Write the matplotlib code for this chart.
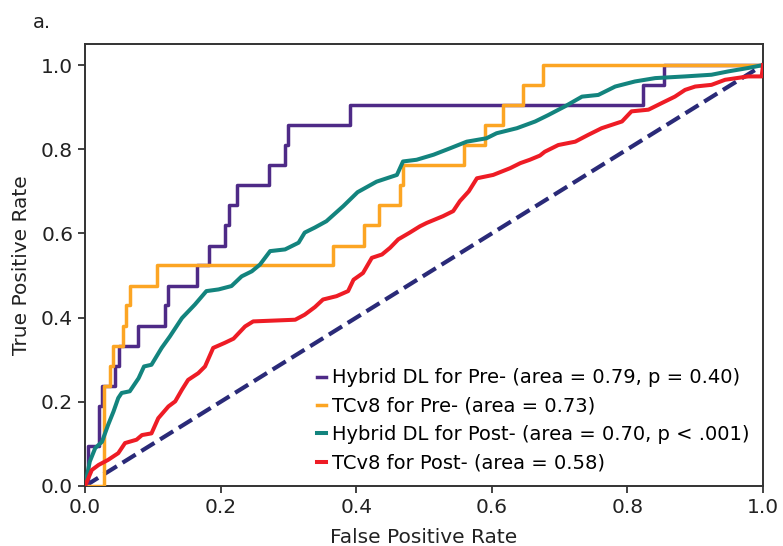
import matplotlib
matplotlib.use('Agg')
from matplotlib import pyplot as plt

# Hybrid DL for Pre- (step curve: fpr where tpr jumps, tpr after jump)
pre_dl_fpr = [0.0, 0.005, 0.02, 0.025, 0.044, 0.05, 0.078, 0.118, 0.123, 0.165, 0.183,
              0.206, 0.212, 0.224, 0.271, 0.295, 0.299, 0.391, 0.823, 0.854, 1.0]
pre_dl_tpr = [0.0, 0.095, 0.190, 0.238, 0.286, 0.333, 0.381, 0.429, 0.476, 0.524, 0.571,
              0.619, 0.667, 0.714, 0.762, 0.810, 0.857, 0.905, 0.952, 1.0, 1.0]

# TCv8 for Pre-
pre_tc_fpr = [0.0, 0.028, 0.037, 0.041, 0.056, 0.061, 0.066, 0.106, 0.366, 0.411, 0.434,
              0.465, 0.469, 0.559, 0.590, 0.617, 0.646, 0.676, 1.0]
pre_tc_tpr = [0.0, 0.238, 0.286, 0.333, 0.381, 0.429, 0.476, 0.524, 0.571, 0.619, 0.667,
              0.714, 0.762, 0.810, 0.857, 0.905, 0.952, 1.0, 1.0]

# Hybrid DL for Post-
post_dl_fpr = [0.0, 0.007, 0.015, 0.025, 0.034, 0.042, 0.049, 0.054, 0.066, 0.079, 0.087,
               0.098, 0.113, 0.125, 0.143, 0.162, 0.179, 0.197, 0.216, 0.231, 0.246,
               0.258, 0.273, 0.295, 0.315, 0.324, 0.339, 0.356, 0.381, 0.402, 0.430,
               0.460, 0.469, 0.489, 0.514, 0.538, 0.563, 0.592, 0.607, 0.637, 0.664,
               0.683, 0.708, 0.733, 0.757, 0.782, 0.811, 0.841, 0.885, 0.924, 0.949,
               0.978, 1.0]
post_dl_tpr = [0.0, 0.058, 0.090, 0.105, 0.145, 0.177, 0.209, 0.221, 0.225, 0.256, 0.284,
               0.288, 0.328, 0.355, 0.399, 0.431, 0.463, 0.467, 0.475, 0.498, 0.510,
               0.526, 0.558, 0.562, 0.578, 0.602, 0.614, 0.629, 0.665, 0.698, 0.723,
               0.739, 0.771, 0.775, 0.787, 0.802, 0.818, 0.826, 0.838, 0.850, 0.866,
               0.881, 0.902, 0.925, 0.929, 0.949, 0.961, 0.969, 0.973, 0.977, 0.985,
               0.993, 1.0]

# TCv8 for Post-
post_tc_fpr = [0.0, 0.010, 0.020, 0.034, 0.049, 0.059, 0.076, 0.084, 0.098, 0.108, 0.123,
               0.133, 0.143, 0.152, 0.167, 0.177, 0.189, 0.206, 0.219, 0.236, 0.248,
               0.310, 0.324, 0.339, 0.351, 0.371, 0.388, 0.396, 0.410, 0.423, 0.438,
               0.450, 0.462, 0.479, 0.494, 0.504, 0.528, 0.543, 0.553, 0.566, 0.578,
               0.602, 0.627, 0.642, 0.656, 0.671, 0.678, 0.698, 0.723, 0.742, 0.762,
               0.792, 0.806, 0.831, 0.851, 0.870, 0.885, 0.900, 0.924, 0.944, 0.978,
               0.998, 1.0]
post_tc_tpr = [0.0, 0.038, 0.050, 0.062, 0.078, 0.102, 0.110, 0.121, 0.125, 0.161, 0.189,
               0.201, 0.229, 0.252, 0.268, 0.284, 0.328, 0.340, 0.350, 0.379, 0.391,
               0.395, 0.407, 0.425, 0.443, 0.451, 0.463, 0.490, 0.506, 0.542, 0.550,
               0.566, 0.586, 0.602, 0.617, 0.625, 0.641, 0.653, 0.677, 0.700, 0.731,
               0.739, 0.755, 0.767, 0.775, 0.785, 0.794, 0.810, 0.818, 0.834, 0.850,
               0.866, 0.890, 0.894, 0.910, 0.925, 0.941, 0.949, 0.953, 0.965, 0.973,
               0.973, 1.0]

labels = ['Hybrid DL for Pre- (area = 0.79, p = 0.40)',
          'TCv8 for Pre- (area = 0.73)',
          'Hybrid DL for Post- (area = 0.70, p < .001)',
          'TCv8 for Post- (area = 0.58)']
colors = ['#4e2a87', '#fca523', '#13847e', '#ee1c25']
chance = [0.0, 1.0]


def plot_roc():
    plt.rcParams['font.family'] = 'DejaVu Sans'
    fig = plt.figure(figsize=(7.83, 5.46), dpi=100)
    ax = fig.add_axes([0.1086, 0.1099, 0.8659, 0.8095])

    ax.plot(chance, chance, color='#2a2a78', lw=3.0, linestyle='--', zorder=1)
    ax.step(pre_dl_fpr, pre_dl_tpr, where='post', color=colors[0], lw=2.5, label=labels[0], zorder=2)
    ax.step(pre_tc_fpr, pre_tc_tpr, where='post', color=colors[1], lw=2.5, label=labels[1], zorder=3)
    ax.plot(post_dl_fpr, post_dl_tpr, color=colors[2], lw=2.9, label=labels[2], zorder=4)
    ax.plot(post_tc_fpr, post_tc_tpr, color=colors[3], lw=2.9, label=labels[3], zorder=5)

    ax.set_xlim(0, 1)
    ax.set_ylim(0, 1.05)
    ax.set_xticks([0.0, 0.2, 0.4, 0.6, 0.8, 1.0])
    ax.set_yticks([0.0, 0.2, 0.4, 0.6, 0.8, 1.0])
    ax.tick_params(labelsize=14.5, width=1.2, length=5, colors='#222222')
    for sp in ax.spines.values():
        sp.set_linewidth(1.4)
        sp.set_color('#333333')
    ax.set_xlabel('False Positive Rate', fontsize=14.5, color='#222222', labelpad=8)
    ax.set_ylabel('True Positive Rate', fontsize=14.5, color='#222222', labelpad=7)

    ax.legend(loc='lower right', frameon=False, fontsize=14, handlelength=0.45,
              handletextpad=0.3, labelspacing=0.48, borderaxespad=0.3,
              bbox_to_anchor=(1.0, 0.0))
    fig.text(0.042, 0.958, 'a.', fontsize=14, color='#222222', va='center')

    fig.savefig('out.png', dpi=100)


def main():
    plot_roc()


if __name__ == "__main__":
    main()
